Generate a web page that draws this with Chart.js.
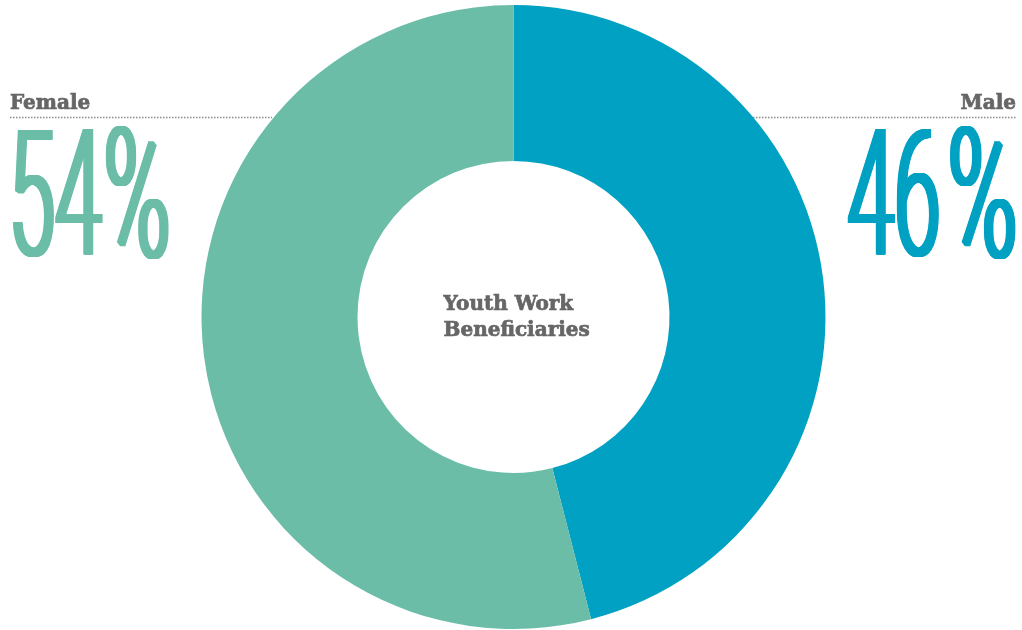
<!DOCTYPE html>
<html>
<head>
<meta charset="utf-8">
<script src="https://cdn.jsdelivr.net/npm/chart.js@4.4.1/dist/chart.umd.min.js"></script>
<style>
  html, body { margin: 0; padding: 0; background: #ffffff; }
  #wrap { width: 1022px; height: 630px; position: relative; }
</style>
</head>
<body>
<div id="wrap"><canvas id="chart" width="1022" height="630"></canvas></div>
<script>
// Gender split of youth work beneficiaries (percent)
const categories = ['Male', 'Female'];
const shares = [46, 54];
const colors = ['#00a1c2', '#6cbda8'];
const centerTitle = ['Youth Work', 'Beneficiaries'];

const GREY = '#666666';
const SLAB = '"DejaVu Serif", serif';
const BIG = 'Roboto, "Liberation Sans", sans-serif';

// Bold slab text, thickened slightly with a matching stroke
function heavyText(ctx, txt, x, y) {
  ctx.fillText(txt, x, y);
  ctx.lineWidth = 0.7;
  ctx.strokeStyle = ctx.fillStyle;
  ctx.strokeText(txt, x, y);
}

// Text squeezed horizontally into a box; vertical stems widened by smearing sideways
function squeezed(ctx, txt, left, baseline, boxW, smear) {
  const w = ctx.measureText(txt).width;
  for (let d = 0; d <= smear; d += 0.5) {
    ctx.save();
    ctx.translate(left + d, baseline);
    ctx.scale((boxW - smear) / w, 1);
    ctx.textAlign = 'left';
    ctx.fillText(txt, 0, 0);
    ctx.restore();
  }
}

// Draws the side callouts (name, dotted rule, big percentage) and the centre caption
const calloutPlugin = {
  id: 'callouts',
  afterDraw(chart) {
    const ctx = chart.ctx;
    const W = chart.width;
    const arc = chart.getDatasetMeta(0).data[0];
    const cx = arc.x;

    const sides = [
      { idx: categories.indexOf('Female'), align: 'left', x: 10, ruleFrom: 10, ruleTo: 272,
        numLeft: 6, pctOffset: 95, pctW: 72 },
      { idx: categories.indexOf('Male'), align: 'right', x: W - 6, ruleFrom: 753, ruleTo: W - 6,
        numLeft: 845, pctOffset: 100, pctW: 75 }
    ];

    sides.forEach(s => {
      // category name
      ctx.save();
      ctx.fillStyle = GREY;
      ctx.font = 'bold 20px ' + SLAB;
      ctx.textAlign = s.align;
      ctx.textBaseline = 'alphabetic';
      heavyText(ctx, categories[s.idx], s.x, 109);
      ctx.restore();

      // dotted rule
      ctx.save();
      ctx.strokeStyle = '#8a8a8a';
      ctx.lineWidth = 1.5;
      ctx.setLineDash([1.5, 1.5]);
      ctx.beginPath();
      ctx.moveTo(s.ruleFrom, 117.5);
      ctx.lineTo(s.ruleTo, 117.5);
      ctx.stroke();
      ctx.restore();

      // large condensed percentage: digits, then the percent sign
      ctx.save();
      ctx.fillStyle = colors[s.idx];
      ctx.textBaseline = 'alphabetic';
      ctx.font = '300 176px ' + BIG;
      squeezed(ctx, String(shares[s.idx]), s.numLeft, 255, 98, 5);
      ctx.font = '300 182px ' + BIG;
      squeezed(ctx, '%', s.numLeft + s.pctOffset, 257, s.pctW, 5);
      ctx.restore();
    });

    // centre caption
    ctx.save();
    ctx.fillStyle = GREY;
    ctx.font = 'bold 20px ' + SLAB;
    ctx.textAlign = 'left';
    ctx.textBaseline = 'alphabetic';
    heavyText(ctx, centerTitle[0], cx - 70, 310);
    heavyText(ctx, centerTitle[1], cx - 70, 336);
    ctx.restore();
  }
};

new Chart(document.getElementById('chart'), {
  type: 'doughnut',
  data: {
    labels: categories,
    datasets: [{
      data: shares,
      backgroundColor: colors,
      borderWidth: 0,
      hoverOffset: 0
    }]
  },
  options: {
    responsive: false,
    animation: false,
    cutout: '50%',
    rotation: 0,
    layout: { padding: { top: 5, bottom: 1, left: 5, right: 0 } },
    plugins: {
      legend: { display: false },
      tooltip: { enabled: false }
    }
  },
  plugins: [calloutPlugin]
});
</script>
</body>
</html>
